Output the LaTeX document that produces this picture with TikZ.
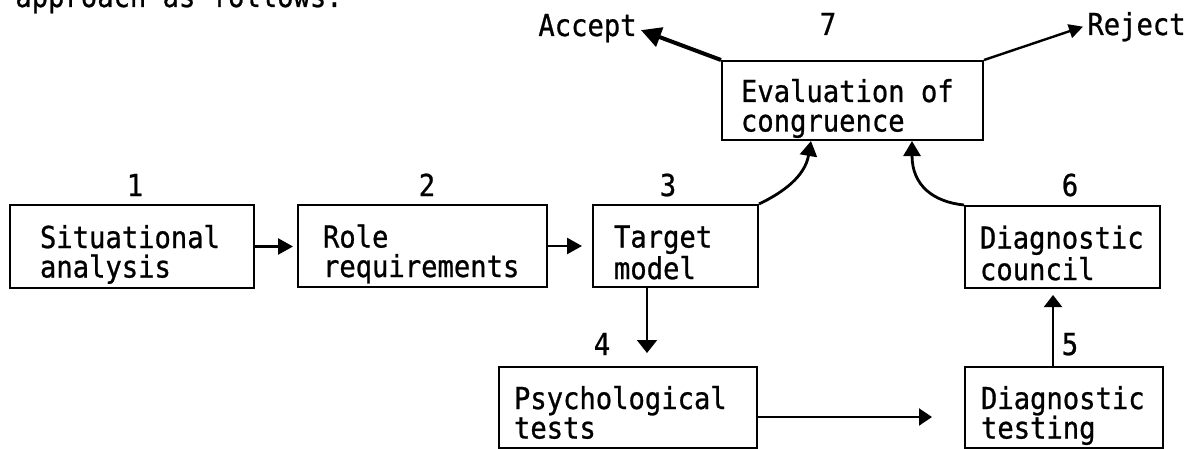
\documentclass[tikz,border=0pt]{standalone}
\usepackage{fontspec}
\newfontfamily\twfont{DejaVu Sans Mono}[FakeStretch=0.9, FakeBold=0.8, WordSpace={1,0,0}]
\usetikzlibrary{arrows.meta,calc}
\newcommand{\tsp}{\hspace{0.542em}}
\begin{document}
\begin{tikzpicture}[x=0.5pt,y=-0.5pt,
  tw/.style={font=\twfont\fontsize{15.1pt}{14.75pt}\selectfont},
  box/.style={draw, line width=1pt, tw, anchor=north west, align=left,
    inner ysep=0pt, text height=15pt, text depth=13.5pt},
  num/.style={tw, anchor=base, inner sep=0pt},
  lbl/.style={tw, anchor=base west, inner sep=0pt},
  arr/.style={line width=1.3pt, -{Triangle[length=7.5pt,width=8pt]}},
  arrv/.style={line width=1pt, -{Triangle[length=6.5pt,width=10pt]}},
  arrc/.style={line width=1.4pt, -{Triangle[length=7.5pt,width=8.5pt]}},
]
\fill[white] (0,0) rectangle (1187,449);
\useasboundingbox (0,0) rectangle (1187,449);

% partial line of text at the top edge
\node[lbl] (intro) at (15,7) {approach as follows:};

% boxes
\node[box, minimum height=41.5pt, text width=92pt, inner xsep=15pt] (b1) at (9,204) {Situational\\analysis};
\node[box, minimum height=41pt, text width=99.5pt, inner xsep=12.5pt] (b2) at (297,204) {Role\\requirements};
\node[box, minimum height=41pt, text width=61.5pt, inner xsep=10.5pt] (b3) at (592,204) {Target\\model};
\node[box, minimum height=40.5pt, text width=114pt, inner xsep=7.5pt] (b4) at (498,366) {Psychological\\tests};
\node[box, minimum height=40.5pt, text width=83pt, inner xsep=8pt] (b5) at (964,366) {Diagnostic\\testing};
\node[box, minimum height=41pt, text width=82.5pt, inner xsep=7.5pt] (b6) at (964,205) {Diagnostic\\council};
\node[box, minimum height=39.5pt, text width=111.5pt, inner xsep=9.5pt] (b7) at (721,60) {Evaluation\tsp of\\congruence};

% step numbers
\node[num] (n1) at (135,196) {1};
\node[num] (n2) at (427,196) {2};
\node[num] (n3) at (668,196) {3};
\node[num] (n4) at (602,355) {4};
\node[num] (n5) at (1070,355) {5};
\node[num] (n6) at (1070,196) {6};
\node[num] (n7) at (828,35) {7};

% outcomes
\node[lbl] (acc) at (538,36) {Accept};
\node[lbl] (rej) at (1087,35) {Reject};

% connectors
\draw[arr, shorten >=2pt] (b1.east) -- (b1.east -| b2.west);
\draw[arr, shorten >=5pt] (b2.east) -- (b2.east -| b3.west);

\coordinate (s34) at ($(b3.south)+(-28.5,0)$);
\draw[arrv, shorten >=6.5pt] (s34) -- (s34 |- b4.north);

\coordinate (s45) at ($(b4.east)+(0,9.5)$);
\draw[line width=1pt, -{Triangle[length=6.5pt,width=8.5pt]}, shorten >=16pt] (s45) -- (s45 -| b5.west);

\coordinate (s56) at ($(b5.north)+(-11,0)$);
\draw[line width=1pt, -{Triangle[length=6pt,width=9pt]}, shorten >=3pt] (s56) -- (s56 |- b6.south);

\draw[arrc] (b3.north east) .. controls +(25,-12) and +(-6,35) .. ($(b7.south)+(-41.5,0)$);
\draw[arrc] (b6.north west) .. controls +(-30,-3) and +(0,45) .. ($(b7.south)+(59.5,0)$);

\draw[line width=2pt, -{Triangle[length=10pt,width=10pt]}] (b7.north west) -- ($(acc.east)+(4,2)$);
\draw[line width=1.2pt, -{Triangle[length=7pt,width=7pt]}] (b7.north east) -- ($(rej.west)+(-4,0)$);
\end{tikzpicture}
\end{document}
